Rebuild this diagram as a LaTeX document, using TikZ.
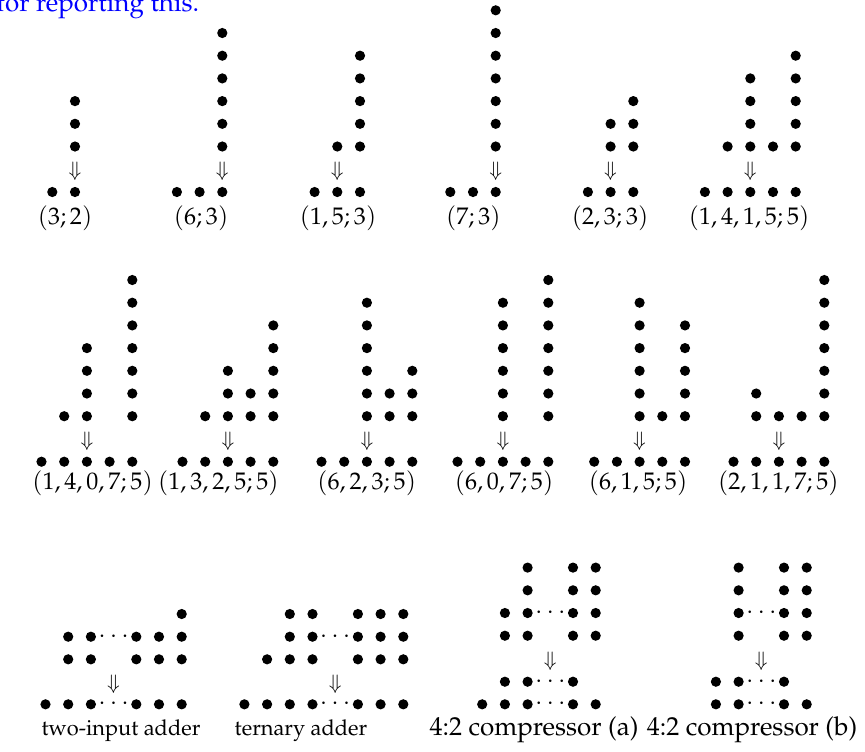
\documentclass[tikz,border=0pt]{standalone}
\usepackage[T1]{fontenc}
\usepackage{mathpazo}
\usepackage{xcolor}
\usetikzlibrary{positioning}

\newcommand{\dotgap}{22.7}
\newcommand{\bitcol}[4]{\foreach \k in {1,...,#4}{\fill (#1-\dotgap*#3,#2-\dotgap*\k+\dotgap) circle[radius=2.55pt];}}
\newcommand{\bitrow}[3]{\foreach \cl in {#3}{\fill (#1-\dotgap*\cl,#2) circle[radius=2.55pt];}}
\newcommand{\gpcount}[4]{\foreach \n/\cl in {#3}{\bitcol{#1}{#2-45.5}{\cl}{\n}}\bitrow{#1}{#2}{#4}}

\begin{document}
\begin{tikzpicture}[x=0.5pt,y=-0.5pt,
  font=\fontsize{12}{14}\selectfont,
  lbl/.style={anchor=base,inner sep=0pt},
  unitlbl/.style={anchor=base,inner sep=0pt,font=\fontsize{10.9}{13}\selectfont},
  cmplbl/.style={anchor=base,inner sep=0pt,font=\fontsize{13}{15}\selectfont},
  arr/.style={inner sep=0pt,font=\fontsize{10}{12}\selectfont},
  dts/.style={anchor=base,inner sep=0pt,text height=0.35em,text depth=0pt}]
\useasboundingbox (0,0) rectangle (865,751);
\node[anchor=base west,inner sep=0pt,text=blue,font=\fontsize{13}{15}\selectfont] (note) at (-4,11) {for reporting this.};

\gpcount{75}{192}{3/0}{0,1}
\gpcount{222.3}{192}{6/0}{0,1,2}
\gpcount{360}{192}{1/1,5/0}{0,1,2}
\gpcount{495.7}{192}{7/0}{0,1,2}
\gpcount{633.3}{192}{2/1,3/0}{0,1,2}
\gpcount{795.7}{192}{1/3,4/2,1/1,5/0}{0,...,4}
\node[arr] (a32) at (75,171) {$\Downarrow$};
\node[arr] (a63) at (222.3,171) {$\Downarrow$};
\node[arr] (a153) at (337.3,171) {$\Downarrow$};
\node[arr] (a73) at (495.7,171) {$\Downarrow$};
\node[arr] (a233) at (610.6,171) {$\Downarrow$};
\node[arr] (a14155) at (750.3,171) {$\Downarrow$};
\node[lbl] (l32) at (65,224) {$(3;2)$};
\node[lbl] (l63) at (201,224) {$(6;3)$};
\node[lbl] (l153) at (338,224) {$(1,5;3)$};
\node[lbl] (l73) at (473.3,224) {$(7;3)$};
\node[lbl] (l233) at (610,224) {$(2,3;3)$};
\node[lbl] (l14155) at (749,224) {$(1,4,1,5;5)$};

\gpcount{132.3}{461.7}{1/3,4/2,7/0}{0,...,4}
\gpcount{273.3}{461.7}{1/3,3/2,2/1,5/0}{0,...,4}
\gpcount{412.3}{461.7}{6/2,2/1,3/0}{0,...,4}
\gpcount{548.3}{461.7}{6/2,7/0}{0,...,4}
\gpcount{685}{461.7}{6/2,1/1,5/0}{0,...,4}
\gpcount{824.3}{461.7}{2/3,1/2,1/1,7/0}{0,...,4}
\node[arr] (a14075) at (86.9,441) {$\Downarrow$};
\node[arr] (a13255) at (227.9,441) {$\Downarrow$};
\node[arr] (a6235) at (366.9,441) {$\Downarrow$};
\node[arr] (a6075) at (502.9,441) {$\Downarrow$};
\node[arr] (a6155) at (639.6,441) {$\Downarrow$};
\node[arr] (a21175) at (778.9,441) {$\Downarrow$};
\node[lbl] (l14075) at (92.5,489) {$(1,4,0,7;5)$};
\node[lbl] (l13255) at (218.3,489) {$(1,3,2,5;5)$};
\node[lbl] (l6235) at (366.7,489) {$(6,2,3;5)$};
\node[lbl] (l6075) at (504,489) {$(6,0,7;5)$};
\node[lbl] (l6155) at (638,489) {$(6,1,5;5)$};
\node[lbl] (l21175) at (778.3,489) {$(2,1,1,7;5)$};

\bitrow{181.7}{614}{0}
\bitrow{181.7}{636.7}{0,1,2,4,5}
\bitrow{181.7}{659.3}{0,1,2,4,5}
\bitrow{181.7}{704.3}{0,1,2,4,5,6}
\node[dts] (tw-d1) at (113.6,642.2) {$\cdots$};
\node[dts] (tw-d2) at (113.6,709.8) {$\cdots$};
\node[arr] (atw) at (113.6,684) {$\Downarrow$};
\node[unitlbl] (ltw) at (121,735) {two-input adder};

\bitrow{403.3}{614}{0,1,2,4,5}
\bitrow{403.3}{636.7}{0,1,2,4,5}
\bitrow{403.3}{659.3}{0,1,2,4,5,6}
\bitrow{403.3}{704.3}{0,1,2,4,5,6,7}
\node[dts] (te-d1) at (335.2,642.2) {$\cdots$};
\node[dts] (te-d2) at (335.2,709.8) {$\cdots$};
\node[arr] (ate) at (335.2,684) {$\Downarrow$};
\node[unitlbl] (lte) at (301,735) {ternary adder};

\bitrow{595.7}{567.6}{0,1,3}
\bitrow{595.7}{590.3}{0,1,3}
\bitrow{595.7}{613}{0,1,3,4}
\bitrow{595.7}{635.7}{0,1,3,4}
\bitrow{595.7}{681.7}{1,3,4}
\bitrow{595.7}{704.3}{0,1,3,4,5}
\node[dts] (ca-d1) at (550.3,618.5) {$\cdots$};
\node[dts] (ca-d2) at (550.3,687.2) {$\cdots$};
\node[dts] (ca-d3) at (550.3,709.8) {$\cdots$};
\node[arr] (aca) at (550.3,661) {$\Downarrow$};
\node[cmplbl] (lca) at (534,735) {4:2 compressor (a)};

\bitrow{806.7}{567.6}{0,1,3}
\bitrow{806.7}{590.3}{0,1,3}
\bitrow{806.7}{613}{0,1,3}
\bitrow{806.7}{635.7}{0,1,3}
\bitrow{806.7}{681.7}{1,3,4}
\bitrow{806.7}{704.3}{0,1,3,4}
\node[dts] (cb-d1) at (761.3,618.5) {$\cdots$};
\node[dts] (cb-d2) at (761.3,687.2) {$\cdots$};
\node[dts] (cb-d3) at (761.3,709.8) {$\cdots$};
\node[arr] (acb) at (761.3,661) {$\Downarrow$};
\node[cmplbl] (lcb) at (752,735) {4:2 compressor (b)};
\end{tikzpicture}
\end{document}
